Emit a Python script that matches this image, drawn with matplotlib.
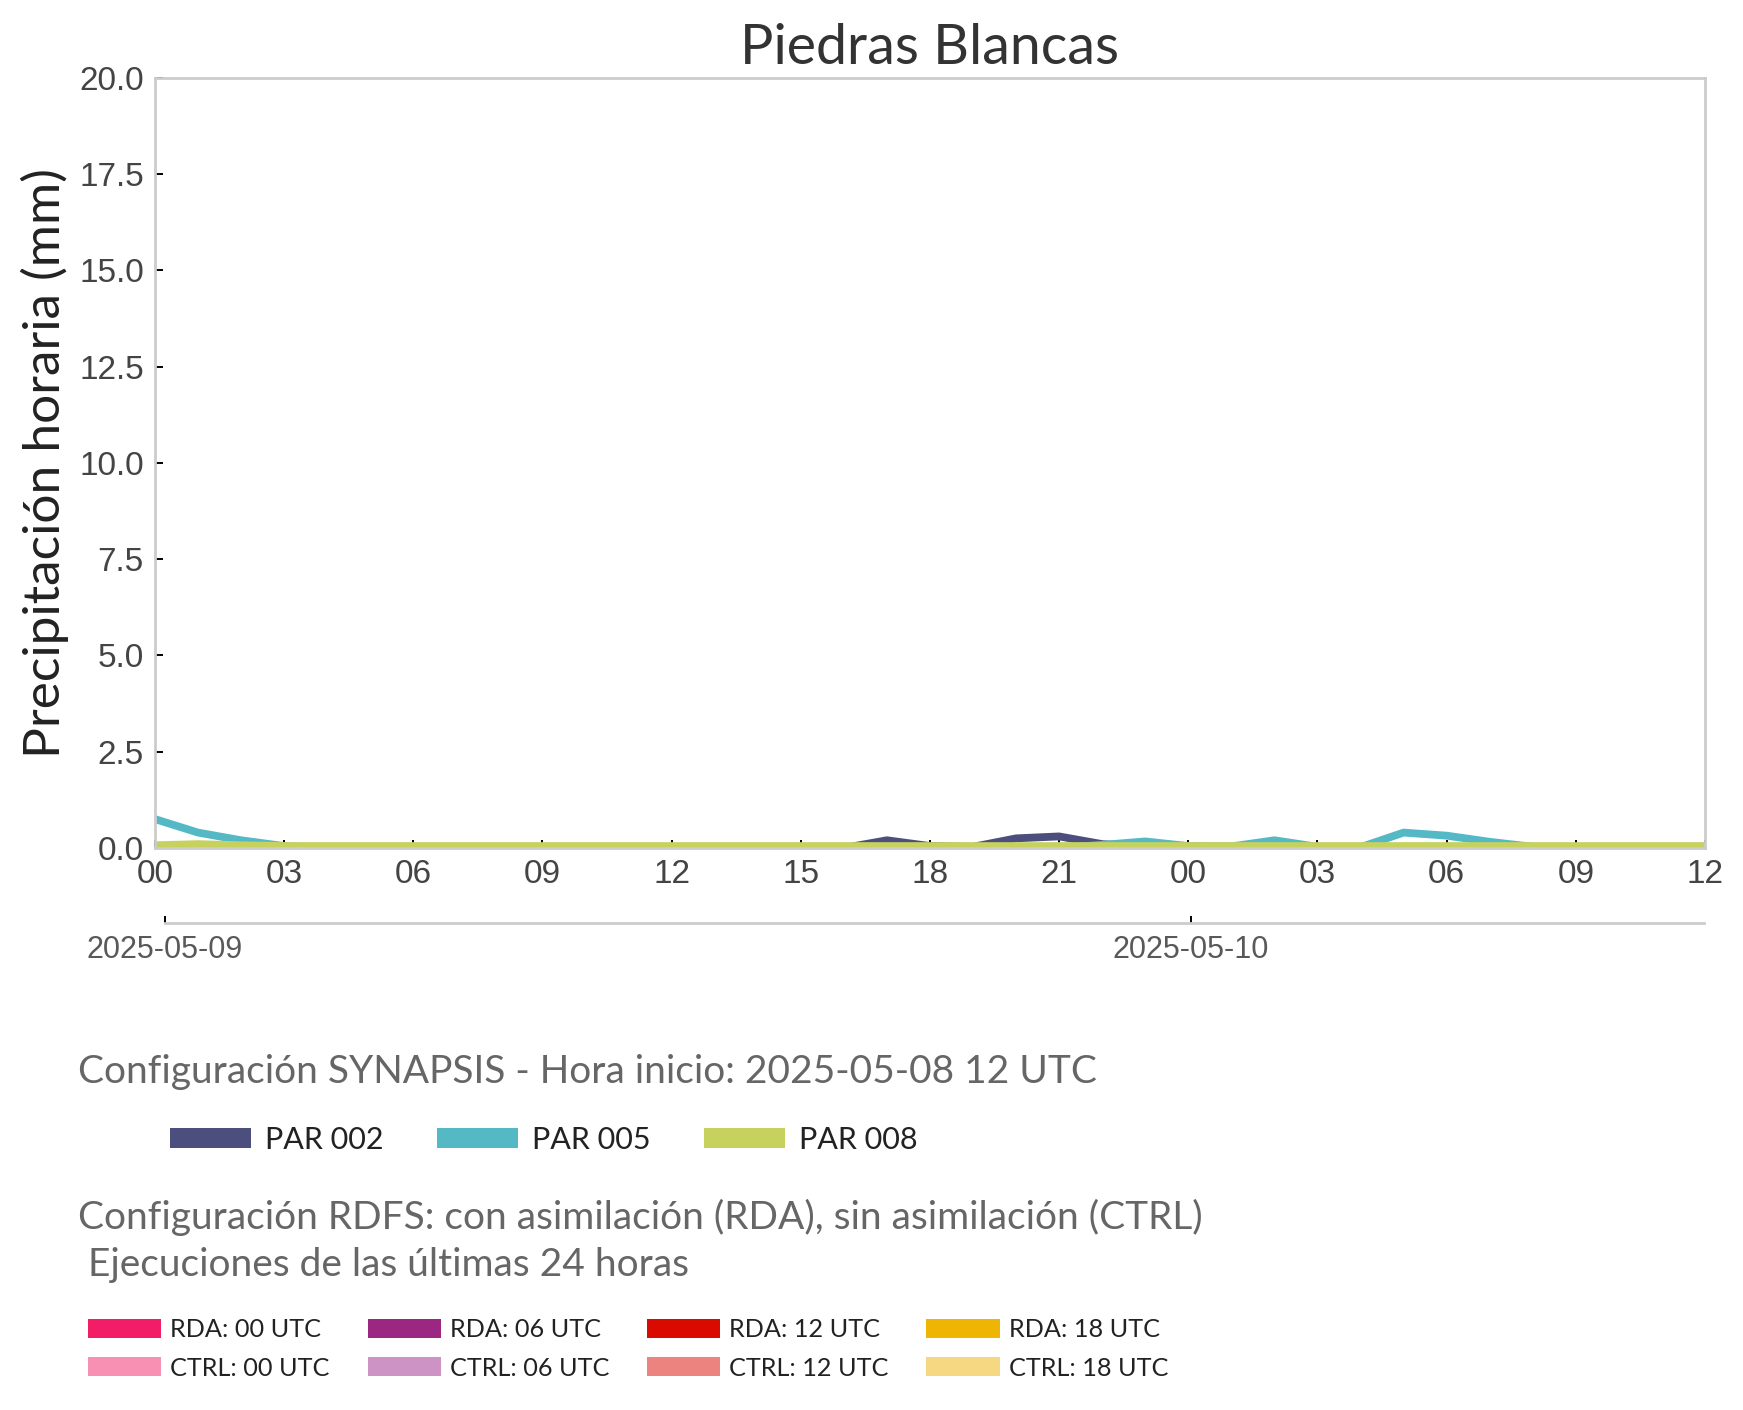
import numpy as np
import pandas as pd
import matplotlib
matplotlib.use('Agg')
import matplotlib.pyplot as plt
import matplotlib.dates as mdates
from matplotlib.patches import Patch

# datos horarios 2025-05-09 00 UTC -> 2025-05-10 12 UTC
times = pd.date_range('2025-05-09 00:00', '2025-05-10 12:00', freq='h')
par002 = [0.0, 0.0, 0.0, 0.0, 0.0, 0.0, 0.0, 0.0, 0.0, 0.0, 0.0, 0.0, 0.0,
          0.0, 0.0, 0.0, 0.0, 0.2, 0.05, 0.03, 0.25, 0.3, 0.1, 0.04, 0.02,
          0.0, 0.0, 0.0, 0.0, 0.0, 0.0, 0.0, 0.0, 0.0, 0.0, 0.0, 0.0]
par005 = [0.75, 0.4, 0.2, 0.05, 0.0, 0.0, 0.0, 0.0, 0.0, 0.0, 0.0, 0.0, 0.0,
          0.0, 0.0, 0.0, 0.0, 0.0, 0.0, 0.0, 0.0, 0.0, 0.08, 0.17, 0.05,
          0.04, 0.2, 0.03, 0.02, 0.4, 0.32, 0.16, 0.03, 0.0, 0.0, 0.0, 0.0]
par008 = [0.07, 0.1, 0.07, 0.05, 0.05, 0.05, 0.05, 0.05, 0.05, 0.05, 0.05,
          0.05, 0.05, 0.05, 0.05, 0.05, 0.05, 0.05, 0.05, 0.05, 0.05, 0.05,
          0.05, 0.05, 0.05, 0.05, 0.05, 0.05, 0.05, 0.05, 0.05, 0.05, 0.05,
          0.05, 0.05, 0.05, 0.05]

series_names = ['PAR 002', 'PAR 005', 'PAR 008']
series_colors = ['#4c4f7e', '#54b9c5', '#c7d15d']

rdfs_labels = ['RDA: 00 UTC', 'CTRL: 00 UTC', 'RDA: 06 UTC', 'CTRL: 06 UTC',
               'RDA: 12 UTC', 'CTRL: 12 UTC', 'RDA: 18 UTC', 'CTRL: 18 UTC']
rdfs_colors = ['#f31c66', '#f890b3', '#9c2783', '#cd93c4',
               '#d90a00', '#ec837e', '#efb505', '#f7d882']

title = 'Piedras Blancas'
ylabel = 'Precipitación horaria (mm)'
leg1_title = 'Configuración SYNAPSIS - Hora inicio: 2025-05-08 12 UTC'
leg2_title = 'Configuración RDFS: con asimilación (RDA), sin asimilación (CTRL)\n Ejecuciones de las últimas 24 horas'

txt_font = 'Lato'
num_font = 'Liberation Sans'

fig = plt.figure(figsize=(8.715, 7.05), dpi=200)
ax = fig.add_axes([0.0889, 0.3986, 0.8893, 0.5461])

for vals, name, col in zip([par002, par005, par008], series_names, series_colors):
    ax.plot(times, vals, color=col, lw=2.8, label=name)

ax.set_ylim(0, 20)
ax.set_yticks(np.arange(0, 20.1, 2.5))
ax.set_xlim(times[0], times[-1])
ax.xaxis.set_major_locator(mdates.HourLocator(byhour=range(0, 24, 3)))
ax.xaxis.set_major_formatter(mdates.DateFormatter('%H'))
ax.tick_params(direction='in', length=3, width=0.7, color='black',
               labelsize=12, labelcolor='#444444', pad=4)
for lab in ax.get_xticklabels() + ax.get_yticklabels():
    lab.set_fontfamily(num_font)
for sp in ax.spines.values():
    sp.set_color('#cccccc')
    sp.set_linewidth(1.0)
ax.set_title(title, fontsize=20, family=txt_font, color='#333333', pad=5)
ax.set_ylabel(ylabel, fontsize=18.5, family=txt_font, color='#222222', labelpad=3.5)

# eje de fechas
ax2 = fig.add_axes([0.0944, 0.3454, 0.8833, 0.001])
ax2.set_xlim(times[0], times[-1])
ax2.set_yticks([])
for s in ['top', 'left', 'right']:
    ax2.spines[s].set_visible(False)
ax2.spines['bottom'].set_color('#cccccc')
ax2.spines['bottom'].set_linewidth(1.0)
ax2.patch.set_visible(False)
ax2.xaxis.set_major_locator(mdates.DayLocator())
ax2.xaxis.set_major_formatter(mdates.DateFormatter('%Y-%m-%d'))
ax2.tick_params(axis='x', direction='in', length=2.5, width=0.7, color='black',
                labelsize=11, labelcolor='#595959', pad=4.5)
for lab in ax2.get_xticklabels():
    lab.set_fontfamily(num_font)

# leyendas
fig.text(0.0447, 0.2397, leg1_title, fontsize=14, family=txt_font,
         color='#666666', va='center', ha='left')
h1 = [Patch(facecolor=c, edgecolor='none') for c in series_colors]
fig.legend(h1, series_names, loc='center left', bbox_to_anchor=(0.082, 0.1916),
           ncol=3, frameon=False, prop={'family': txt_font, 'size': 11},
           handlelength=2.65, handleheight=0.65, columnspacing=1.75,
           handletextpad=0.45, labelcolor='#222222')

fig.text(0.0447, 0.150, leg2_title, fontsize=14, family=txt_font,
         color='#666666', va='top', ha='left', linespacing=1.4)
h2 = [Patch(facecolor=c, edgecolor='none') for c in rdfs_colors]
fig.legend(h2, rdfs_labels, loc='center left', bbox_to_anchor=(0.0375, 0.0433),
           ncol=4, frameon=False, prop={'family': txt_font, 'size': 9.1},
           handlelength=2.9, handleheight=0.8, columnspacing=1.5,
           handletextpad=0.35, labelspacing=0.6, labelcolor='#222222')

fig.savefig('out.png', dpi=200)
